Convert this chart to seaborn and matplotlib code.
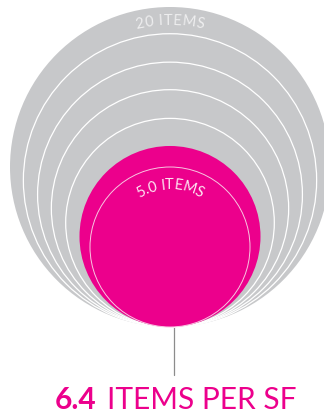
import numpy as np
import pandas as pd
import matplotlib
matplotlib.use("Agg")
import matplotlib.pyplot as plt
from matplotlib.font_manager import FontProperties
from matplotlib.textpath import text_to_path
import seaborn as sns

# Items per square foot, drawn largest to smallest
values = [20.0, 16.8, 13.7, 11.0, 8.5, 6.4, 5.0]
roles = ["grey", "grey", "grey", "grey", "grey", "pink", "ring"]
outer_label = "20 ITEMS"
inner_label = "5.0 ITEMS"
headline_value = "6.4"
headline_unit = "ITEMS PER SF"

W, H, DPI = 324, 416, 100
GREY = "#c7c8ca"
PINK = "#ec008c"

sns.set_theme(style="white")
plt.rcParams["font.family"] = ["Lato", "DejaVu Sans"]

fig = plt.figure(figsize=(W / DPI, H / DPI), dpi=DPI)
ax = fig.add_axes([0, 0, 1, 1])

# Circle area is proportional to the value; the largest is 320 px across
VMAX = 20.0
D_MAX_PX = 320.0
PT_PER_PX = 72.0 / DPI
S_MAX = (D_MAX_PX * PT_PER_PX) ** 2


def radius_px(v):
    return D_MAX_PX / 2 * np.sqrt(np.asarray(v) / VMAX)


CX, BASE = 170.0, 327.0
df = pd.DataFrame({"value": values, "role": roles})
df["x"] = CX
df["y"] = BASE - radius_px(df["value"])  # all circles sit on the same baseline

edges = [GREY, "white", "white", "white", "white", PINK, "#f8c6e1"]
widths = [0.0, 0.9, 0.9, 0.9, 0.9, 0.0, 0.7]

# leader line from the highlighted circle down to the headline
ax.plot([174, 174], [BASE, 375], color="#8c8c8c", lw=0.9, zorder=1)

sns.scatterplot(
    data=df, x="x", y="y",
    size="value", sizes=(0, S_MAX), size_norm=(0, VMAX),
    hue="role", palette={"grey": GREY, "pink": PINK, "ring": (1, 1, 1, 0)},
    edgecolor=edges, linewidth=widths,
    legend=False, ax=ax, zorder=2,
)

ax.set_xlim(0, W)
ax.set_ylim(H, 0)
ax.axis("off")


def arc_text(text, cx, cy, r, size, color, weight="normal", tracking=0.0):
    """Write text centred on top of a circle, one glyph at a time."""
    prop = FontProperties(family=["Lato", "DejaVu Sans"], size=size, weight=weight)
    adv = []
    for ch in text:
        w, _, _ = text_to_path.get_text_width_height_descent(ch, prop, ismath=False)
        adv.append(w / PT_PER_PX + tracking)
    total = sum(adv) - tracking
    pos = -total / 2
    for ch, a in zip(text, adv):
        theta = (pos + (a - tracking) / 2) / r
        x = cx + r * np.sin(theta)
        y = cy - r * np.cos(theta)
        ax.text(x, y, ch, fontproperties=prop, color=color,
                ha="center", va="center", rotation=-np.degrees(theta),
                rotation_mode="anchor", zorder=4)
        pos += a


r_out = float(radius_px(values[0]))
arc_text(outer_label, CX, BASE - r_out, r_out - 14, 10.5, "#eeeeef", tracking=0.8)
r_in = float(radius_px(values[-1]))
arc_text(inner_label, CX, BASE - r_in, r_in - 18, 10.5, "#fde6f2", tracking=0.3)

# headline: bold figure followed by the unit
yb = 409
t1 = ax.text(0, yb, headline_value, fontsize=21.5, fontweight="bold",
             color=PINK, ha="left", va="baseline")
t2 = ax.text(0, yb, headline_unit, fontsize=21.5, fontweight="normal",
             color=PINK, ha="left", va="baseline")
renderer = fig.canvas.get_renderer()
w1 = t1.get_window_extent(renderer).width
w2 = t2.get_window_extent(renderer).width
gap = 10
x0 = 175.5 - (w1 + gap + w2) / 2
t1.set_x(x0)
t2.set_x(x0 + w1 + gap)

fig.savefig("out.png", dpi=DPI)
